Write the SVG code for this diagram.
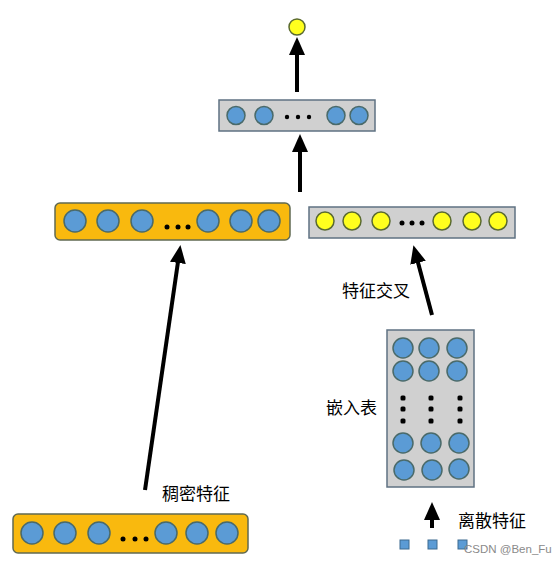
<svg xmlns="http://www.w3.org/2000/svg" width="558" height="564" viewBox="0 0 558 564">
<style>
.gbox{fill:#d0d0d0;stroke:#5f7282;stroke-width:1.5}
.obox{fill:#f9b90e;stroke:#606a52;stroke-width:1.5}
.bc{fill:#5b9bd5;stroke:#4a6a6a;stroke-width:1.5}
.yc{fill:#ffff1e;stroke:#5a6a30;stroke-width:1.5}
.dot{fill:#000}
.sq{fill:#5b9bd5;stroke:#3d6a90;stroke-width:1}
.lbl{font-family:"Noto Sans CJK SC","Liberation Sans",sans-serif;font-size:17px;fill:#000}
.arr{stroke:#000;stroke-width:4;fill:none;marker-end:url(#ah)}
</style>
<defs>
<marker id="ah" markerWidth="4.5" markerHeight="4" refX="2" refY="2" orient="auto" markerUnits="strokeWidth">
<path d="M0,0 L4.5,2 L0,4 z" fill="#000"/>
</marker>
</defs>
<rect width="558" height="564" fill="#fff"/>
<g id="output">
<circle class="yc" cx="297" cy="27" r="8"/>
</g>
<g id="top-layer">
<rect class="gbox" x="219" y="100" width="156" height="31"/>
<circle class="bc" cx="236" cy="115.5" r="9"/>
<circle class="bc" cx="264" cy="115.5" r="9"/>
<circle class="dot" cx="287" cy="117" r="2.2"/>
<circle class="dot" cx="298" cy="117" r="2.2"/>
<circle class="dot" cx="309" cy="117" r="2.2"/>
<circle class="bc" cx="336" cy="115.5" r="9"/>
<circle class="bc" cx="359" cy="115.5" r="9"/>
</g>
<g id="dense-layer">
<rect class="obox" x="55" y="203" width="235" height="37" rx="5"/>
<circle class="bc" cx="75" cy="221" r="11"/>
<circle class="bc" cx="108" cy="221" r="11"/>
<circle class="bc" cx="142" cy="221" r="11"/>
<circle class="dot" cx="167" cy="227" r="2.5"/>
<circle class="dot" cx="178" cy="227" r="2.5"/>
<circle class="dot" cx="188" cy="227" r="2.5"/>
<circle class="bc" cx="208" cy="221" r="11"/>
<circle class="bc" cx="241" cy="221" r="11"/>
<circle class="bc" cx="269" cy="221" r="11"/>
</g>
<g id="cross-layer">
<rect class="gbox" x="309" y="207" width="206" height="31"/>
<circle class="yc" cx="325" cy="221" r="9"/>
<circle class="yc" cx="352" cy="221" r="9"/>
<circle class="yc" cx="381" cy="221" r="9"/>
<circle class="dot" cx="402" cy="223" r="2.5"/>
<circle class="dot" cx="412" cy="223" r="2.5"/>
<circle class="dot" cx="422" cy="223" r="2.5"/>
<circle class="yc" cx="442" cy="221" r="9"/>
<circle class="yc" cx="472" cy="221" r="9"/>
<circle class="yc" cx="498" cy="221" r="9"/>
</g>
<g id="embedding-table">
<rect class="gbox" x="387" y="330" width="87" height="157"/>
<circle class="bc" cx="403" cy="348" r="10"/>
<circle class="bc" cx="429" cy="348" r="10"/>
<circle class="bc" cx="457" cy="348" r="10"/>
<circle class="bc" cx="403" cy="371" r="10"/>
<circle class="bc" cx="429" cy="371" r="10"/>
<circle class="bc" cx="457" cy="371" r="10"/>
<rect class="dot" x="400.5" y="395.5" width="5" height="5" rx="1.5"/>
<rect class="dot" x="400.5" y="406.5" width="5" height="5" rx="1.5"/>
<rect class="dot" x="400.5" y="418.5" width="5" height="5" rx="1.5"/>
<rect class="dot" x="428.5" y="395.5" width="5" height="5" rx="1.5"/>
<rect class="dot" x="428.5" y="406.5" width="5" height="5" rx="1.5"/>
<rect class="dot" x="428.5" y="418.5" width="5" height="5" rx="1.5"/>
<rect class="dot" x="457.5" y="395.5" width="5" height="5" rx="1.5"/>
<rect class="dot" x="457.5" y="406.5" width="5" height="5" rx="1.5"/>
<rect class="dot" x="457.5" y="418.5" width="5" height="5" rx="1.5"/>
<circle class="bc" cx="403" cy="443" r="10"/>
<circle class="bc" cx="431" cy="443" r="10"/>
<circle class="bc" cx="459" cy="443" r="10"/>
<circle class="bc" cx="404" cy="470" r="10"/>
<circle class="bc" cx="432" cy="470" r="10"/>
<circle class="bc" cx="459" cy="469" r="10"/>
<text class="lbl" x="326" y="414">嵌入表</text>
</g>
<g id="dense-input">
<rect class="obox" x="13" y="514" width="235" height="39" rx="5"/>
<circle class="bc" cx="32" cy="533" r="11"/>
<circle class="bc" cx="65" cy="533" r="11"/>
<circle class="bc" cx="99" cy="533" r="11"/>
<circle class="dot" cx="123" cy="539" r="2.5"/>
<circle class="dot" cx="135" cy="539" r="2.5"/>
<circle class="dot" cx="146" cy="539" r="2.5"/>
<circle class="bc" cx="166" cy="533" r="11"/>
<circle class="bc" cx="197" cy="533" r="11"/>
<circle class="bc" cx="227" cy="533" r="11"/>
<text class="lbl" x="162" y="500">稠密特征</text>
</g>
<g id="sparse-input">
<rect class="sq" x="400" y="540" width="9" height="9"/>
<rect class="sq" x="428" y="540" width="9" height="9"/>
<rect class="sq" x="458" y="540" width="9" height="9"/>
<text class="lbl" x="458" y="527">离散特征</text>
</g>
<g id="connectors">
<line class="arr" x1="297" y1="92" x2="297" y2="47"/>
<line class="arr" x1="300" y1="192" x2="300" y2="144"/>
<line class="arr" x1="145" y1="490" x2="179" y2="255"/>
<line class="arr" x1="432" y1="315" x2="416" y2="255"/>
<line class="arr" x1="432" y1="528" x2="432" y2="512"/>
<text class="lbl" x="342" y="297">特征交叉</text>
</g>
<text x="464" y="553" font-family="Liberation Sans,sans-serif" font-size="11.5" fill="#8a8a8a">CSDN @Ben_Fu</text>
</svg>
